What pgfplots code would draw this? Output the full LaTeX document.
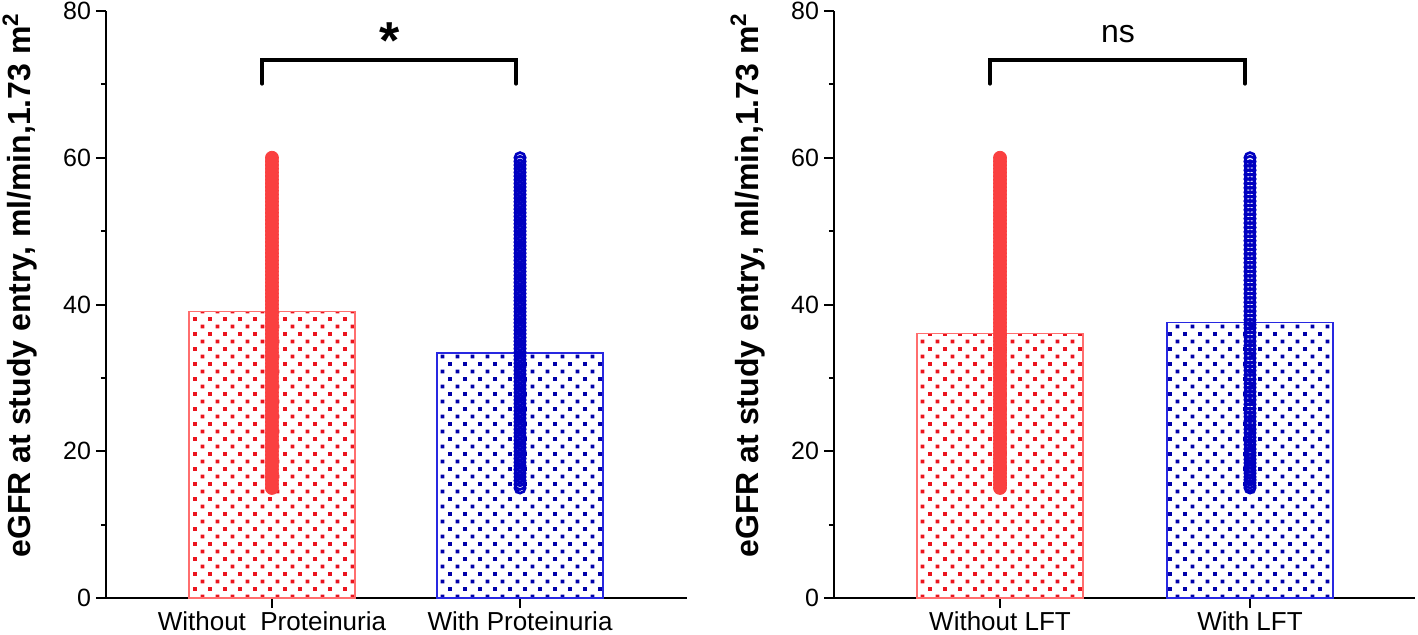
\documentclass[border=0pt]{standalone}
\usepackage{pgfplots}
\pgfplotsset{compat=1.18}
\usepackage{pgfplotstable}
\usepackage{fontspec}
\setmainfont{Liberation Sans}
\usetikzlibrary{patterns}
\definecolor{cred}{RGB}{250,64,64}
\definecolor{cblue}{RGB}{0,0,192}
\definecolor{bred}{RGB}{255,110,110}
\definecolor{bblue}{RGB}{40,40,225}
\definecolor{dred}{RGB}{235,20,30}
\definecolor{dblue}{RGB}{0,0,170}
\pgfdeclarepatternformonly{sqdots}{\pgfqpoint{-1pt}{-1pt}}{\pgfqpoint{8.5pt}{8.5pt}}{\pgfqpoint{7.5pt}{7.5pt}}{%
  \pgfpathrectangle{\pgfqpoint{-0.95pt}{-0.95pt}}{\pgfqpoint{1.9pt}{1.9pt}}%
  \pgfpathrectangle{\pgfqpoint{2.8pt}{2.8pt}}{\pgfqpoint{1.9pt}{1.9pt}}%
  \pgfusepath{fill}}
\pgfplotstableread[row sep=\\]{
y\\ 15.0\\ 15.5\\ 16.0\\ 16.5\\ 17.0\\ 17.5\\ 18.0\\ 18.5\\ 19.0\\ 19.5\\ 20.0\\ 20.5\\ 21.0\\ 21.5\\ 22.0\\ 22.5\\ 23.0\\ 23.5\\ 24.0\\ 24.5\\ 25.0\\ 25.5\\ 26.0\\ 26.5\\ 27.0\\ 27.5\\ 28.0\\ 28.5\\ 29.0\\ 29.5\\ 30.0\\ 30.5\\ 31.0\\ 31.5\\ 32.0\\ 32.5\\ 33.0\\ 33.5\\ 34.0\\ 34.5\\ 35.0\\ 35.5\\ 36.0\\ 36.5\\ 37.0\\ 37.5\\ 38.0\\ 38.5\\ 39.0\\ 39.5\\ 40.0\\ 40.5\\ 41.0\\ 41.5\\ 42.0\\ 42.5\\ 43.0\\ 43.5\\ 44.0\\ 44.5\\ 45.0\\ 45.5\\ 46.0\\ 46.5\\ 47.0\\ 47.5\\ 48.0\\ 48.5\\ 49.0\\ 49.5\\ 50.0\\ 50.5\\ 51.0\\ 51.5\\ 52.0\\ 52.5\\ 53.0\\ 53.5\\ 54.0\\ 54.5\\ 55.0\\ 55.5\\ 56.0\\ 56.5\\ 57.0\\ 57.5\\ 58.0\\ 58.5\\ 59.0\\ 59.5\\ 60.0\\
}\vals
\pgfplotstableread[row sep=\\]{
y\\ 15.0\\ 15.3\\ 15.7\\ 16.1\\ 16.5\\ 17.0\\ 17.4\\ 17.9\\ 18.4\\ 18.9\\ 19.4\\ 19.8\\ 20.3\\ 20.9\\ 21.4\\ 21.9\\ 22.5\\ 23.0\\ 23.6\\ 24.1\\ 24.7\\ 25.2\\ 25.8\\ 26.4\\ 27.0\\ 27.5\\ 28.1\\ 28.7\\ 29.2\\ 29.8\\ 30.4\\ 31.0\\ 31.5\\ 32.1\\ 32.7\\ 33.3\\ 33.9\\ 34.4\\ 35.0\\ 35.6\\ 36.2\\ 36.8\\ 37.3\\ 37.9\\ 38.5\\ 39.1\\ 39.7\\ 40.3\\ 40.9\\ 41.5\\ 42.1\\ 42.7\\ 43.3\\ 43.9\\ 44.5\\ 45.1\\ 45.7\\ 46.3\\ 46.9\\ 47.5\\ 48.1\\ 48.7\\ 49.3\\ 49.9\\ 50.5\\ 51.1\\ 51.7\\ 52.3\\ 52.9\\ 53.5\\ 54.1\\ 54.7\\ 55.3\\ 55.9\\ 56.5\\ 57.1\\ 57.7\\ 58.3\\ 58.9\\ 59.5\\ 60.0\\
}\bvals
\pgfplotsset{
  myax/.style={
    scale only axis, width=290.5pt, height=293.5pt,
    xmin=-0.669, xmax=1.673, ymin=0, ymax=80,
    axis x line*=bottom, axis y line*=left,
    axis line style={line width=1pt, black},
    ytick={0,20,40,60,80}, minor ytick={10,30,50,70},
    xtick={0,1},
    tick align=outside, major tick length=5pt, minor tick length=2.6pt,
    every tick/.style={line width=1pt, black},
    minor tick style={line width=1pt, black},
    tick label style={font=\fontsize{12.5}{14}\selectfont},
    xticklabel style={yshift=1.5pt, font=\fontsize{13}{15}\selectfont},
    yticklabel style={xshift=1pt},
    /pgf/number format/assume math mode=true,
    ylabel={eGFR at study entry, ml/min,1.73 m\textsuperscript{2}},
    ylabel style={font=\fontsize{16}{18}\bfseries\selectfont, at={([xshift=-43pt]rel axis cs:0,0.533)}, anchor=center},
    clip=false, anchor=south west,
  },
}
\begin{document}
\begin{tikzpicture}
\useasboundingbox (-53pt,-18pt) rectangle (656pt,299pt);
\begin{axis}[myax, at={(0,0)}, xticklabels={Without\ \ Proteinuria, With Proteinuria}]
\addplot[ybar, bar width=0.669, bar shift=0pt, draw=bred, line width=0.6pt, pattern=sqdots, pattern color=dred] coordinates {(0,39.1)};
\addplot[ybar, bar width=0.669, bar shift=0pt, draw=bblue, line width=0.6pt, pattern=sqdots, pattern color=dblue] coordinates {(1,33.4)};
\addplot[only marks, mark=*, mark size=3.25pt, color=cred] table[x expr=0, y=y] {\vals};
\addplot[only marks, mark=o, mark size=2.6pt, mark options={line width=1.3pt}, color=cblue] table[x expr=1, y=y] {\vals};
\draw[line width=2pt, line cap=round, line join=miter] (axis cs:-0.04,70.1) -- (axis cs:-0.04,73.3) -- (axis cs:0.984,73.3) -- (axis cs:0.984,70.1);
\node[anchor=north, inner sep=0pt, font=\fontsize{26}{28}\bfseries\selectfont] at (axis cs:0.476,78.4) {*};
\end{axis}
\begin{axis}[myax, at={(364pt,0)}, xmin=-0.664, xmax=1.66, xticklabels={Without LFT, With LFT}]
\addplot[ybar, bar width=0.664, bar shift=0pt, draw=bred, line width=0.6pt, pattern=sqdots, pattern color=dred] coordinates {(0,36.1)};
\addplot[ybar, bar width=0.664, bar shift=0pt, draw=bblue, line width=0.6pt, pattern=sqdots, pattern color=dblue] coordinates {(1,37.6)};
\addplot[only marks, mark=*, mark size=3.25pt, color=cred] table[x expr=0, y=y] {\vals};
\addplot[only marks, mark=o, mark size=2.6pt, mark options={line width=1.3pt}, color=cblue] table[x expr=1, y=y] {\bvals};
\draw[line width=2pt, line cap=round, line join=miter] (axis cs:-0.04,70.1) -- (axis cs:-0.04,73.3) -- (axis cs:0.98,73.3) -- (axis cs:0.98,70.1);
\node[anchor=center, inner sep=0pt, font=\fontsize{16}{18}\selectfont] at (axis cs:0.472,76.9) {ns};
\end{axis}
\end{tikzpicture}
\end{document}
